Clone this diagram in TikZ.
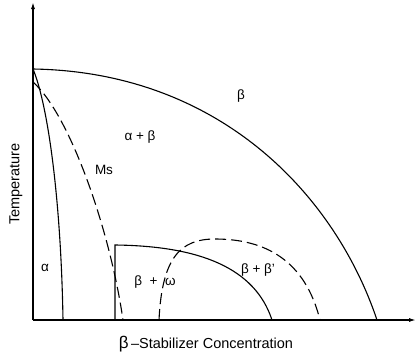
\documentclass[tikz,border=0pt]{standalone}
\usepackage{fontspec}
\setmainfont{Liberation Sans}
\usetikzlibrary{arrows.meta}

\begin{document}
\begin{tikzpicture}[x=1pt, y=-1pt, every node/.style={font=\fontsize{13.5}{15}\selectfont, inner sep=1pt}]
		% Styles
		\tikzset{
			axisline/.style={line width=1.3pt, -{Latex[length=7pt, width=4pt]}},
			phaseline/.style={line width=1.1pt},
			trline/.style={line width=1.1pt, dash pattern=on 11pt off 5pt}
		}
		\useasboundingbox (0,0) rectangle (416,357);
		
		% AXES
		\draw[axisline] (33,320) -- (33,2);
		\draw[axisline] (33,320) -- (416,320);
		\node[rotate=90, font=\fontsize{14.5}{16}\selectfont] (ylab) at (16,184) {Temperature};
		\node[font=\fontsize{14.5}{16}\selectfont] (xlab) at (206,344) {{\fontsize{17}{17}\selectfont β}\,–Stabilizer Concentration};
		
		% SOLID PHASE BOUNDARIES
		% Beta transus
		\draw[phaseline] (33,69) .. controls (220,72) and (335,195) .. (377,320);
		% Alpha / alpha+beta boundary
		\draw[phaseline] (33,69) .. controls (48,105) and (61,200) .. (63,320);
		% Omega region
		\draw[phaseline] (115,320) -- (115,245) .. controls (200,246) and (255,268) .. (272,320);
		
		% DASHED LINES
		% Martensite start
		\draw[trline] (33,82) .. controls (70,115) and (110,230) .. (123,320);
		% Beta prime region
		\draw[trline] (159,320) .. controls (162,258) and (180,239) .. (215,239)
			.. controls (265,239) and (305,260) .. (320,320);
		
		% PHASE LABELS
		\node (beta) at (241,96) {β};
		\node (ab) at (140,137) {α + β};
		\node (ms) at (104,170) {Ms};
		\node (alpha) at (45,268) {α};
		\node (bo) at (155,282) {β \ + \ ω};
		\node (bb) at (258,270) {β + β'};
		
	\end{tikzpicture}
\end{document}
